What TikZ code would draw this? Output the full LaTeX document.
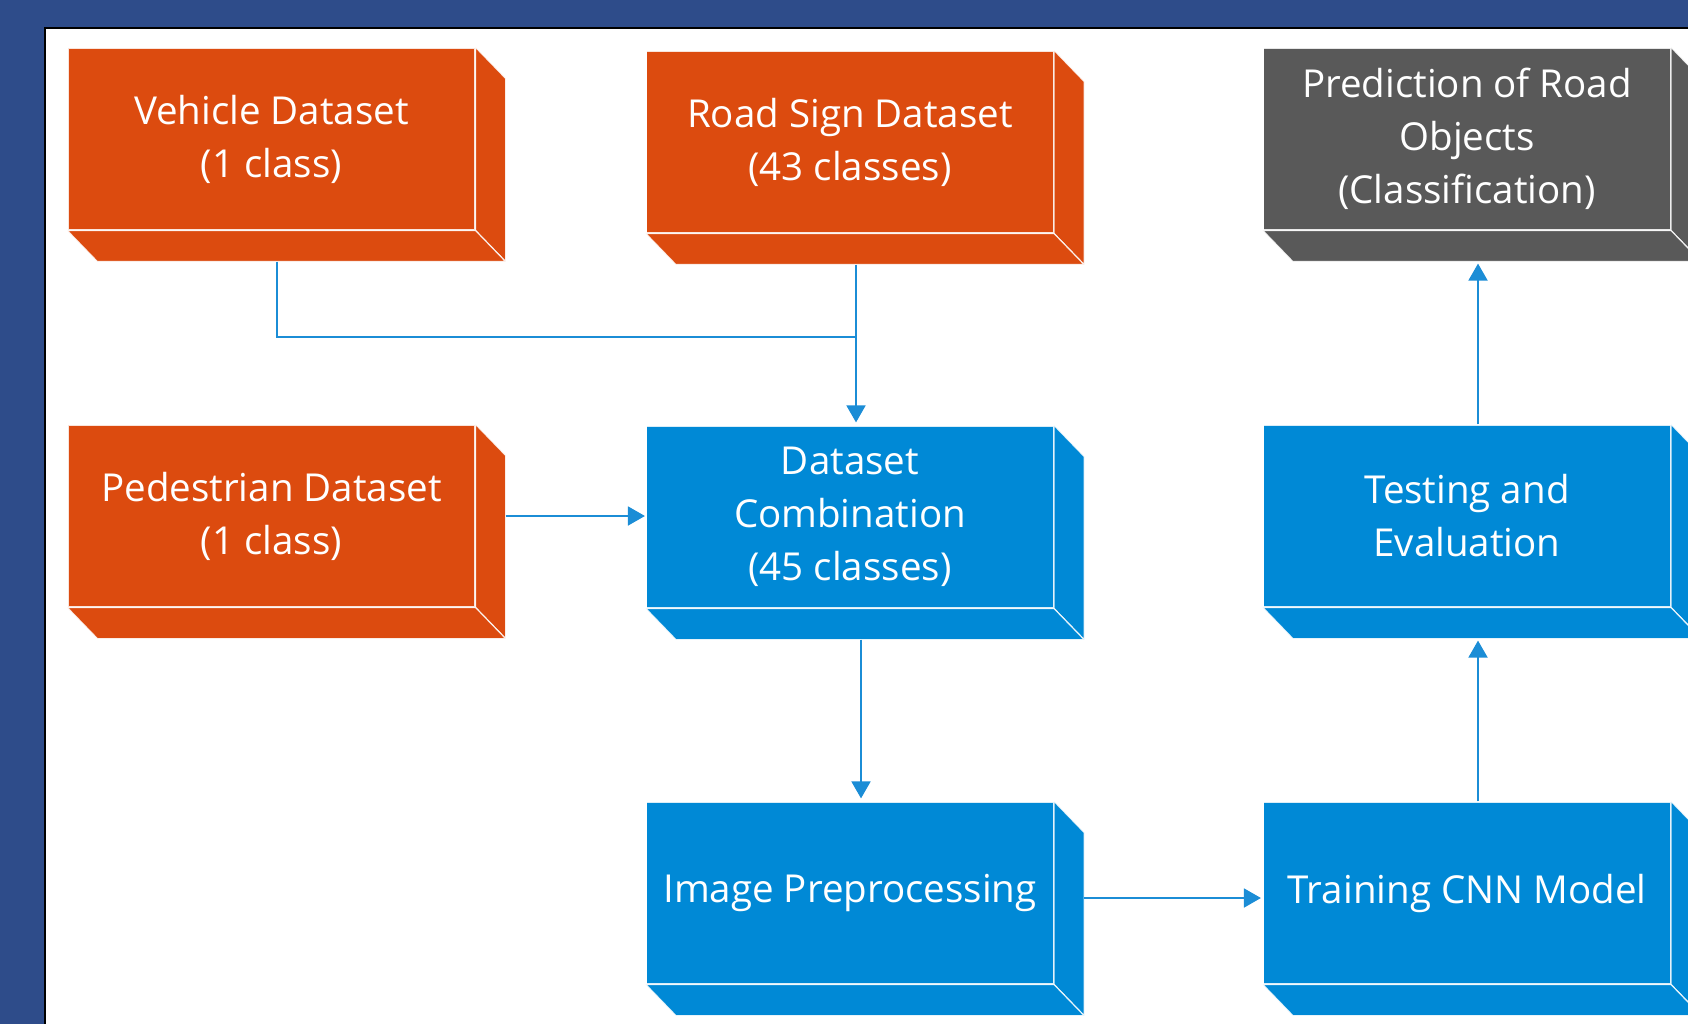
\documentclass[tikz,border=0pt]{standalone}
\usepackage{fontspec}
\setmainfont{Open Sans}
\usetikzlibrary{arrows.meta}
\definecolor{frameblue}{RGB}{46,76,138}
\definecolor{boxorange}{RGB}{220,75,15}
\definecolor{boxblue}{RGB}{0,137,214}
\definecolor{boxgray}{RGB}{89,89,89}
\definecolor{arrowblue}{RGB}{27,141,214}
\tikzset{
  frontface/.style={rectangle, minimum width=407pt, minimum height=182pt, inner sep=0pt,
    draw=white, draw opacity=0.85, line width=1.2pt, text=white, align=center,
    font=\fontsize{38.5}{53}\selectfont},
  edgeface/.style={draw=white, draw opacity=0.85, line width=1.2pt, line join=round},
  wire/.style={draw=arrowblue, line width=1.8pt},
  conn/.style={wire, -{Triangle[width=19pt,length=17pt]}},
}
\newcommand{\depthfaces}[2]{%
  \filldraw[edgeface, fill=#2] (#1.north east) -- ++(30,31) -- ([shift={(30,31)}]#1.south east) -- (#1.south east) -- cycle;
  \filldraw[edgeface, fill=#2] (#1.south west) -- ([shift={(30,31)}]#1.south west) -- ([shift={(30,31)}]#1.south east) -- (#1.south east) -- cycle;
}
\begin{document}
\begin{tikzpicture}[x=1pt,y=-1pt]
\useasboundingbox (0,0) rectangle (1688,1024);
\clip (0,0) rectangle (1688,1024);
\fill[frameblue] (0,0) rectangle (1688,1024);
\filldraw[fill=white, draw=black, line width=2.5pt] (45,28) rectangle (1720,1060);

\node[frontface, fill=boxorange] (veh) at (271.5,139) {Vehicle Dataset\\(1 class)};
\depthfaces{veh}{boxorange}
\node[frontface, fill=boxorange] (rs) at (850,142) {Road Sign Dataset\\(43 classes)};
\depthfaces{rs}{boxorange}
\node[frontface, fill=boxgray] (pred) at (1467,139) {Prediction of Road\\Objects\\(Classification)};
\depthfaces{pred}{boxgray}
\node[frontface, fill=boxorange] (ped) at (271.5,516) {Pedestrian Dataset\\(1 class)};
\depthfaces{ped}{boxorange}
\node[frontface, fill=boxblue] (comb) at (850,517) {Dataset\\Combination\\(45 classes)};
\depthfaces{comb}{boxblue}
\node[frontface, fill=boxblue] (test) at (1467,516) {Testing and\\Evaluation};
\depthfaces{test}{boxblue}
\node[frontface, fill=boxblue] (ip) at (850,893) {Image Preprocessing};
\depthfaces{ip}{boxblue}
\node[frontface, fill=boxblue] (train) at (1467,893) {Training CNN Model};
\depthfaces{train}{boxblue}

\coordinate (merge) at (856,337);
\draw[wire] ([xshift=5.5pt,yshift=-31pt]veh.south) |- (merge);
\draw[conn] ([xshift=6pt,yshift=-31pt]rs.south) -- ([xshift=6pt,yshift=3pt]comb.north);
\draw[conn] ([xshift=30pt]ped.east) -- ([xshift=-1pt]ped.east -| comb.west);
\draw[conn] ([xshift=11pt,yshift=-31pt]comb.south) -- ([xshift=11pt,yshift=3pt]ip.north);
\draw[conn] ([xshift=30pt,yshift=-5pt]ip.east) -- ([xshift=-2pt,yshift=-5pt]train.west);
\draw[conn] ([xshift=11pt]train.north) -- ([xshift=11pt,yshift=-33pt]test.south);
\draw[conn] ([xshift=11pt]test.north) -- ([xshift=11pt,yshift=-33pt]pred.south);
\end{tikzpicture}
\end{document}
